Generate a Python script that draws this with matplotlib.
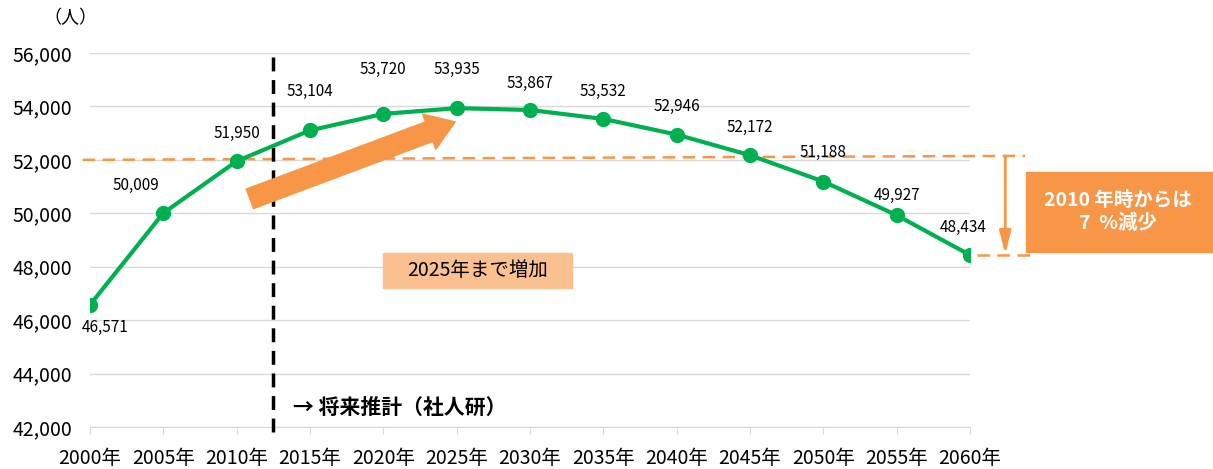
#!/usr/bin/env python

import numpy as np
import matplotlib.pyplot as plt
from matplotlib.patches import Rectangle

plt.rcParams['font.family'] = ['Noto Sans CJK JP', 'DejaVu Sans']

# population data (persons)
years = [2000, 2005, 2010, 2015, 2020, 2025, 2030, 2035, 2040, 2045, 2050, 2055, 2060]
population = [46571, 50009, 51950, 53104, 53720, 53935, 53867, 53532, 52946, 52172, 51188, 49927, 48434]
tick_labels = [f"{y}年" for y in years]
y_ticks = [42000, 44000, 46000, 48000, 50000, 52000, 54000, 56000]

green = "#00B050"
orange = "#F79646"
light_orange = "#FAC090"
grid_col = "#D9D9D9"

fig = plt.figure(figsize=(12.13, 4.69), dpi=100)
ax = fig.add_axes([0.0742, 0.0896, 0.7255, 0.7974])

x = np.arange(len(years))
ax.plot(x, population, color=green, lw=3, marker='o', ms=10, zorder=5)

# data labels, offsets in points
label_off = [(11, -16), (-20, 20), (0, 20), (0, 28), (0, 32), (0, 28), (0, 19),
             (0, 20), (0, 20), (0, 20), (0, 21), (0, 14), (-5, 20)]
for xi, v, off in zip(x, population, label_off):
    ax.annotate(f"{v:,}", (xi, v), xytext=off, textcoords='offset points',
                ha='center', va='center', fontsize=11, zorder=6)

ax.set_xlim(0, 12)
ax.set_ylim(42000, 56000)
ax.set_yticks(y_ticks)
ax.set_yticklabels([f"{t:,}" for t in y_ticks], fontsize=14)
ax.set_xticks(x)
ax.set_xticklabels(tick_labels, fontsize=14)
ax.tick_params(axis='y', length=0, pad=13)
ax.tick_params(axis='x', length=5, color=grid_col, pad=10)
ax.grid(axis='y', color=grid_col, lw=1)
ax.set_axisbelow(True)
for s in ['left', 'right', 'top']:
    ax.spines[s].set_visible(False)
ax.spines['bottom'].set_color(grid_col)

# projection boundary
ax.plot([2.5, 2.5], [55850, 41800], color='black', lw=2.5, ls=(0, (4, 2.5)),
        clip_on=False, zorder=4)
ax.text(2.77, 42750, "→ 将来推計（社人研）", fontsize=15, fontweight='bold', va='center')

# 2010 reference lines
ax.plot([-0.1, 12.75], [52000, 52150], color=orange, lw=1.8, ls=(0, (5, 3)),
        clip_on=False, zorder=3)
ax.plot([12.1, 12.9], [48420, 48420], color=orange, lw=1.8, ls=(0, (5, 3)),
        clip_on=False, zorder=3)
ax.annotate('', xy=(12.48, 48460), xytext=(12.48, 52100),
            arrowprops=dict(arrowstyle='-|>,head_width=0.35,head_length=1.4',
                            color=orange, lw=2, shrinkA=0, shrinkB=0),
            annotation_clip=False)

# growth arrow
ax.annotate('', xy=(4.98, 53420), xytext=(2.18, 50540),
            arrowprops=dict(arrowstyle='simple,head_width=27,head_length=20,tail_width=15',
                            color=orange, mutation_scale=1, shrinkA=0, shrinkB=0),
            zorder=4)

# "increase until 2025" box
ax.add_patch(Rectangle((4.0, 47200), 2.57, 1310, color=light_orange, zorder=4))
ax.text(5.285, 47855, "2025年まで増加", fontsize=14, ha='center', va='center', zorder=5)

# right box
fig.patches.append(Rectangle((0.846, 0.4627), 0.154, 0.1706, color=orange,
                             transform=fig.transFigure, figure=fig))
fig.text(0.922, 0.548, "2010 年時からは\n7  %減少", color='white', fontsize=14,
         fontweight='bold', ha='center', va='center', linespacing=1.3)

fig.text(0.058, 0.962, "（人）", fontsize=13, ha='center', va='center')

fig.savefig("out.png", dpi=100)
